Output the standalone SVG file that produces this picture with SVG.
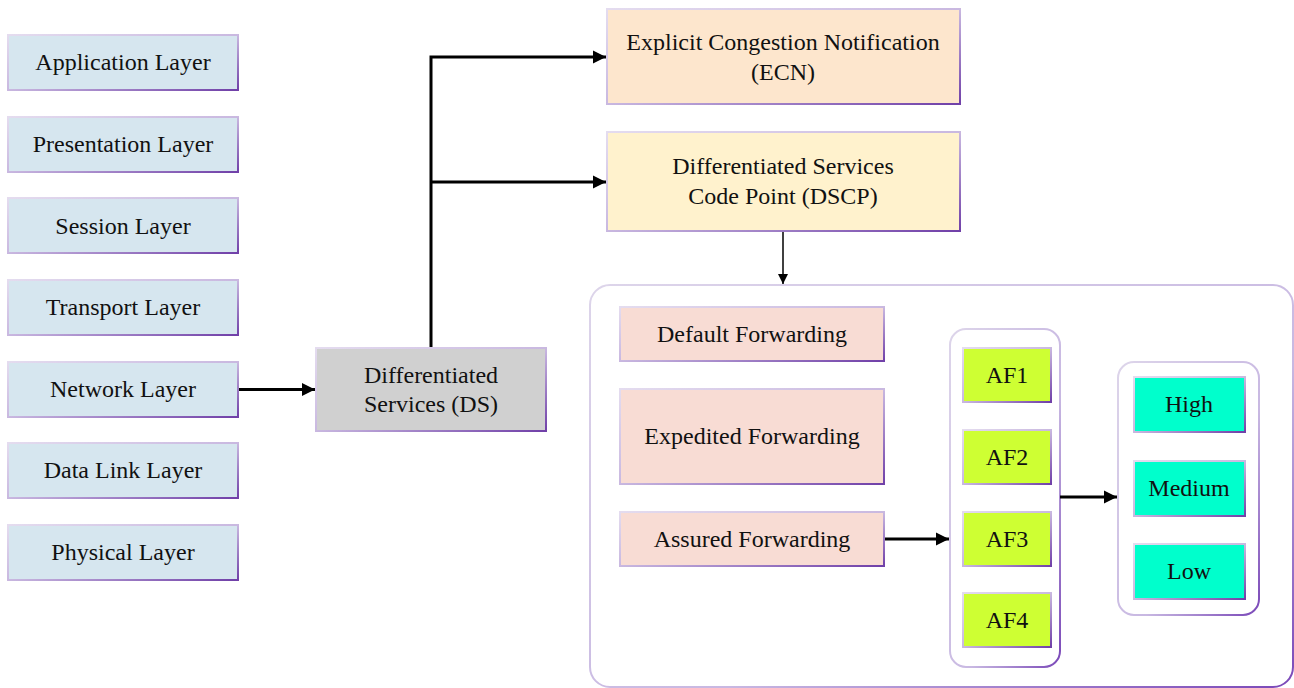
<svg xmlns="http://www.w3.org/2000/svg" width="1294" height="688" viewBox="0 0 1294 688">
<defs>
<linearGradient id="bd" x1="0" y1="0" x2="1" y2="1">
<stop offset="0" stop-color="#e4dcef"/>
<stop offset="0.5" stop-color="#c9b8e0"/>
<stop offset="1" stop-color="#7040a8"/>
</linearGradient>
<linearGradient id="cb" x1="0" y1="0" x2="1" y2="1">
<stop offset="0" stop-color="#ddd5ea"/>
<stop offset="0.6" stop-color="#c8b8e2"/>
<stop offset="1" stop-color="#7a48b8"/>
</linearGradient>
<marker id="ah" viewBox="0 0 10 10" refX="10" refY="5" markerWidth="4.5" markerHeight="4.5" orient="auto" markerUnits="strokeWidth">
<path d="M0,0 L10,5 L0,10 z" fill="#000"/>
</marker>
<marker id="ahs" viewBox="0 0 10 10" refX="10" refY="5" markerWidth="7" markerHeight="7" orient="auto" markerUnits="strokeWidth">
<path d="M0,0 L10,5 L0,10 z" fill="#000"/>
</marker>
</defs>
<style>
text{font-family:"Liberation Serif","DejaVu Serif",serif;font-size:24px;fill:#111;text-anchor:middle;dominant-baseline:central}
.n{stroke:url(#bd);stroke-width:2}
.layer{fill:#d6e6ef}
.ds{fill:#d0d0d0}
.ecn{fill:#fde6cd}
.dscp{fill:#fff2cd}
.fw{fill:#f8dcd4}
.af{fill:#ceff33}
.lvl{fill:#00ffcc}
.cont{fill:#fff;stroke:url(#cb);stroke-width:2}
.c{fill:none;stroke:#000;stroke-width:3}
.ct{fill:none;stroke:#000;stroke-width:1.5}
</style>
<rect width="1294" height="688" fill="#fff"/>
<g id="container-main"><rect class="cont" x="590" y="285" width="703" height="402" rx="20"/></g>
<g id="container-af"><rect class="cont" x="950" y="329" width="110" height="338" rx="16"/></g>
<g id="container-prio"><rect class="cont" x="1118" y="362" width="141" height="253" rx="16"/></g>
<g id="connectors">
<line class="c" x1="238" y1="389.5" x2="315" y2="389.5" marker-end="url(#ah)"/>
<polyline class="c" points="431,348 431,57 606,57" marker-end="url(#ah)"/>
<line class="c" x1="431" y1="182" x2="606" y2="182" marker-end="url(#ah)"/>
<line class="ct" x1="783" y1="231" x2="783" y2="284" marker-end="url(#ahs)"/>
<line class="c" x1="885" y1="539" x2="949" y2="539" marker-end="url(#ah)"/>
<line class="c" x1="1060" y1="497" x2="1117" y2="497" marker-end="url(#ah)"/>
</g>
<g id="app"><rect class="n layer" x="8" y="35" width="230" height="55"/><text x="123" y="62">Application Layer</text></g>
<g id="pres"><rect class="n layer" x="8" y="117" width="230" height="55"/><text x="123" y="144">Presentation Layer</text></g>
<g id="sess"><rect class="n layer" x="8" y="198" width="230" height="55"/><text x="123" y="226">Session Layer</text></g>
<g id="trans"><rect class="n layer" x="8" y="280" width="230" height="55"/><text x="123" y="307">Transport Layer</text></g>
<g id="net"><rect class="n layer" x="8" y="362" width="230" height="55"/><text x="123" y="389">Network Layer</text></g>
<g id="dl"><rect class="n layer" x="8" y="443" width="230" height="55"/><text x="123" y="470">Data Link Layer</text></g>
<g id="phys"><rect class="n layer" x="8" y="525" width="230" height="55"/><text x="123" y="552">Physical Layer</text></g>
<g id="ds"><rect class="n ds" x="316" y="348" width="230" height="83"/><text x="431" y="375">Differentiated</text><text x="431" y="404">Services (DS)</text></g>
<g id="ecn"><rect class="n ecn" x="607" y="9" width="353" height="95"/><text x="783" y="42">Explicit Congestion Notification</text><text x="783" y="72">(ECN)</text></g>
<g id="dscp"><rect class="n dscp" x="607" y="132" width="353" height="99"/><text x="783" y="166">Differentiated Services</text><text x="783" y="196">Code Point (DSCP)</text></g>
<g id="df"><rect class="n fw" x="620" y="307" width="264" height="54"/><text x="752" y="334">Default Forwarding</text></g>
<g id="ef"><rect class="n fw" x="620" y="389" width="264" height="95"/><text x="752" y="436">Expedited Forwarding</text></g>
<g id="afw"><rect class="n fw" x="620" y="512" width="264" height="54"/><text x="752" y="539">Assured Forwarding</text></g>
<g id="af1"><rect class="n af" x="963" y="348" width="88" height="54"/><text x="1007" y="375">AF1</text></g>
<g id="af2"><rect class="n af" x="963" y="430" width="88" height="54"/><text x="1007" y="457">AF2</text></g>
<g id="af3"><rect class="n af" x="963" y="512" width="88" height="54"/><text x="1007" y="539">AF3</text></g>
<g id="af4"><rect class="n af" x="963" y="593" width="88" height="54"/><text x="1007" y="620">AF4</text></g>
<g id="high"><rect class="n lvl" x="1134" y="377" width="111" height="55"/><text x="1189" y="404">High</text></g>
<g id="medium"><rect class="n lvl" x="1134" y="461" width="111" height="55"/><text x="1189" y="488">Medium</text></g>
<g id="low"><rect class="n lvl" x="1134" y="544" width="111" height="55"/><text x="1189" y="571">Low</text></g>
</svg>
